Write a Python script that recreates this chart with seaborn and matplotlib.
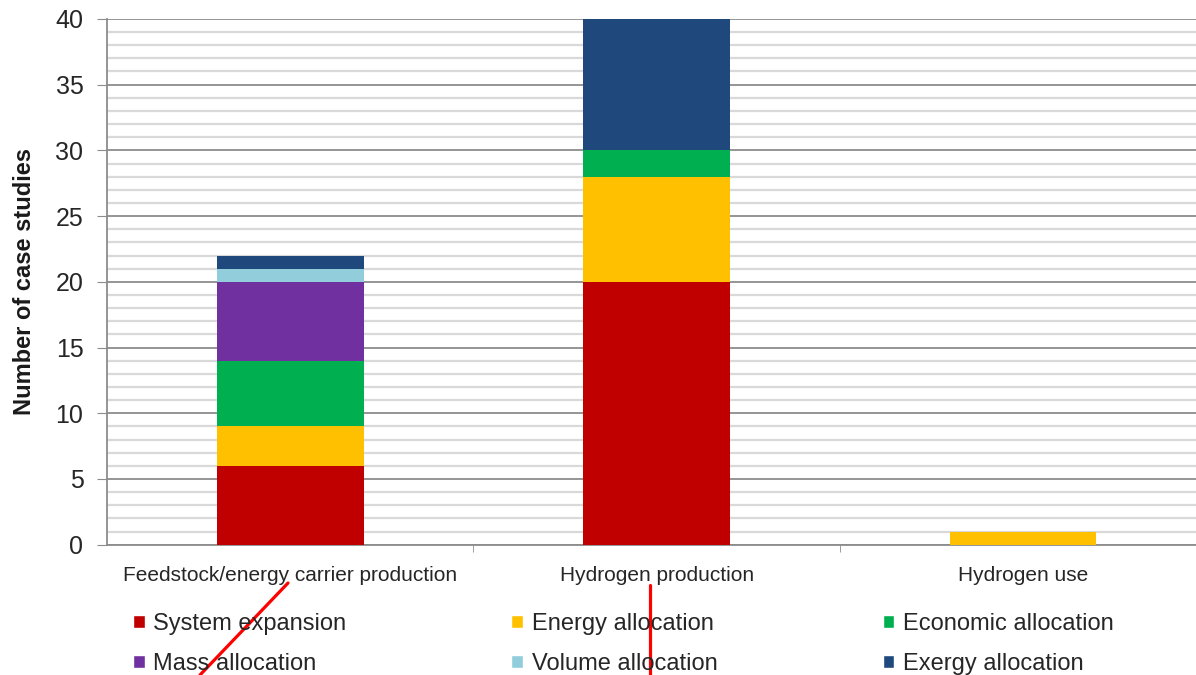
import pandas as pd
import seaborn as sns
import matplotlib.pyplot as plt
from matplotlib.patches import Patch
from matplotlib.lines import Line2D
from matplotlib.ticker import MultipleLocator

stages = ["Feedstock/energy carrier production", "Hydrogen production", "Hydrogen use"]
methods = ["System expansion", "Energy allocation", "Economic allocation",
           "Mass allocation", "Volume allocation", "Exergy allocation"]
system_expansion = [6, 20, 0]
energy_allocation = [3, 8, 1]
economic_allocation = [5, 2, 0]
mass_allocation = [6, 0, 0]
volume_allocation = [1, 0, 0]
exergy_allocation = [1, 10, 0]
colors = ["#C00000", "#FFC000", "#00B050", "#7030A0", "#92CDDC", "#1F497D"]

series = [system_expansion, energy_allocation, economic_allocation,
          mass_allocation, volume_allocation, exergy_allocation]

sns.set_style("white")
plt.rcParams["font.family"] = ["Liberation Sans", "DejaVu Sans"]

fig = plt.figure(figsize=(11.96, 6.75), dpi=100)
ax = fig.add_axes([0.0895, 0.193, 0.919, 0.779])

# stacked bars: draw cumulative totals from the top segment down
df = pd.DataFrame(dict(zip(methods, series)), index=stages)
cum = df.cumsum(axis=1)
for m, c in reversed(list(zip(methods, colors))):
    sns.barplot(x=cum.index, y=cum[m].values, color=c, width=0.4,
                saturation=1, linewidth=0, ax=ax, zorder=3)

ax.set_xlim(-0.5, 2.5)
ax.set_ylim(0, 40)
ax.yaxis.set_major_locator(MultipleLocator(5))
ax.yaxis.set_minor_locator(MultipleLocator(1))
ax.grid(which="major", axis="y", color="#8c8c8c", linewidth=1.3, zorder=0)
ax.grid(which="minor", axis="y", color="#d9d9d9", linewidth=1.6, zorder=0)
ax.set_axisbelow(True)

for s in ["top", "right"]:
    ax.spines[s].set_visible(False)
for s in ["left", "bottom"]:
    ax.spines[s].set_color("#8c8c8c")
    ax.spines[s].set_linewidth(1.3)

ax.tick_params(axis="y", which="major", length=7, color="#8c8c8c",
               labelsize=18, labelcolor="#262626", pad=10, left=True)
ax.tick_params(axis="y", which="minor", length=0)
ax.set_xticks(range(len(stages)))
ax.set_xticklabels(stages)
ax.tick_params(axis="x", which="major", length=0, labelsize=15,
               labelcolor="#262626", pad=15)
ax.set_xticks([0.5, 1.5, 2.5], minor=True)
ax.tick_params(axis="x", which="minor", length=5, color="#8c8c8c", bottom=True)
ax.set_xlabel("")
ax.set_ylabel("Number of case studies", fontsize=17, fontweight="bold",
              color="#1a1a1a", labelpad=14)

order = [0, 3, 1, 4, 2, 5]
handles = [Patch(facecolor=colors[i], label=methods[i]) for i in order]
fig.legend(handles=handles, ncol=3, loc="upper left",
           bbox_to_anchor=(133 / 1196, 1 - 613 / 675), borderaxespad=0,
           borderpad=0, frameon=False, fontsize=17,
           handlelength=0.5, handleheight=0.5, handletextpad=0.35,
           columnspacing=7.0, labelspacing=0.75, labelcolor="#262626")

# red marker strokes
fig.add_artist(Line2D([288 / 1196, 200 / 1196], [1 - 583 / 675, 0], color="red",
                      linewidth=2.3, transform=fig.transFigure))
fig.add_artist(Line2D([650 / 1196, 650 / 1196], [1 - 585 / 675, 0], color="red",
                      linewidth=2.3, transform=fig.transFigure))

fig.savefig("out.png", dpi=100)
